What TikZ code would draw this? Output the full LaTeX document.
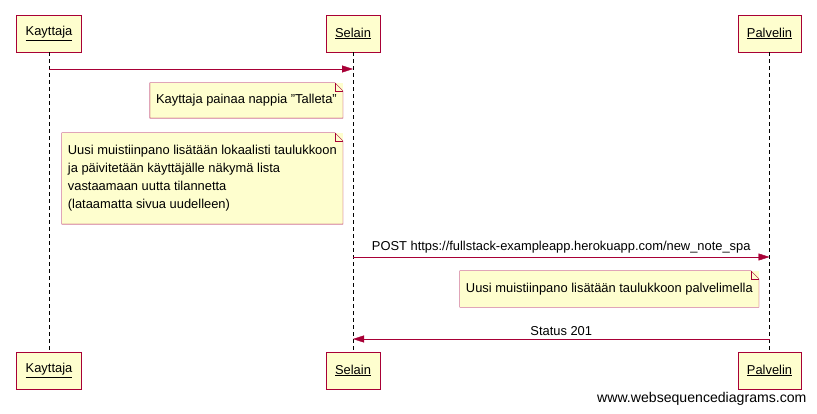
\documentclass[tikz,border=0pt]{standalone}
\usepackage{fontspec}
\setmainfont{Liberation Sans}
\usetikzlibrary{arrows.meta}
\definecolor{wsdred}{HTML}{A80036}
\definecolor{wsdbox}{HTML}{FEFECE}
\tikzstyle{actor} = [rectangle, draw=wsdred, fill=wsdbox, inner xsep=9pt, minimum height=37pt, font=\fontsize{12.9}{15}\selectfont]
\tikzstyle{note} = [rectangle, fill=wsdbox, inner xsep=6pt, anchor=east, align=left, font=\fontsize{12.9}{18}\selectfont]
\tikzstyle{lifeline} = [dashed, dash pattern=on 4pt off 3pt]
\tikzstyle{msg} = [draw=wsdred, -{Triangle[length=11pt,width=7pt]}, wsdred]

\begin{document}
\begin{tikzpicture}[x=1pt, y=-1pt]
\useasboundingbox (0,0) rectangle (817,414);
\node (kayttaja) [actor] at (49,33.5) {\underline{Kayttaja}};
\node (selain) [actor] at (353,33.5) {\underline{Selain}};
\node (palvelin) [actor] at (769.5,33.5) {\underline{Palvelin}};
\node (kayttajaB) [actor] at (49,370.5) {\underline{Kayttaja}};
\node (selainB) [actor] at (353,370.5) {\underline{Selain}};
\node (palvelinB) [actor] at (769.5,370.5) {\underline{Palvelin}};
\draw [lifeline] (kayttaja) -- (kayttajaB);
\draw [lifeline] (selain) -- (selainB);
\draw [lifeline] (palvelin) -- (palvelinB);
% viestit
\coordinate (k1) at (49,69);
\coordinate (s1) at (353,69);
\coordinate (s2) at (353,257);
\coordinate (p2) at (769.5,257);
\coordinate (p3) at (769.5,339);
\coordinate (s3) at (353,339);
\draw [msg] (k1) -- (s1);
\draw [msg] (s2) -- node[above, black, font=\fontsize{12.9}{15}\selectfont]{POST https://fullstack-exampleapp.herokuapp.com/new\_note\_spa} (p2);
\draw [msg] (p3) -- node[above, black, font=\fontsize{12.9}{15}\selectfont]{Status 201} (s3);
% muistiinpanot
\node (note1) [note, minimum height=35pt] at (343,100.5) {Kayttaja painaa nappia \symbol{34}Talleta\symbol{34}};
\node (note2) [note, minimum height=91pt] at (343,178.5) {Uusi muistiinpano lisätään lokaalisti taulukkoon\\ja päivitetään käyttäjälle näkymä lista\\vastaamaan uutta tilannetta\\(lataamatta sivua uudelleen)};
\node (note3) [note, minimum height=36pt] at (759,289) {Uusi muistiinpano lisätään taulukkoon palvelimella};
\foreach \n in {note1,note2,note3} {
  \draw [wsdred] (\n.north west) -- ([xshift=-8pt]\n.north east) -- ([yshift=-8pt]\n.north east) -- (\n.south east) -- (\n.south west) -- cycle;
  \draw [wsdred] ([xshift=-8pt]\n.north east) |- ([yshift=-8pt]\n.north east);
}
\node (wsd) [anchor=east, font=\fontsize{14.1}{16}\selectfont] at (810,399) {www.websequencediagrams.com};
\end{tikzpicture}
\end{document}
